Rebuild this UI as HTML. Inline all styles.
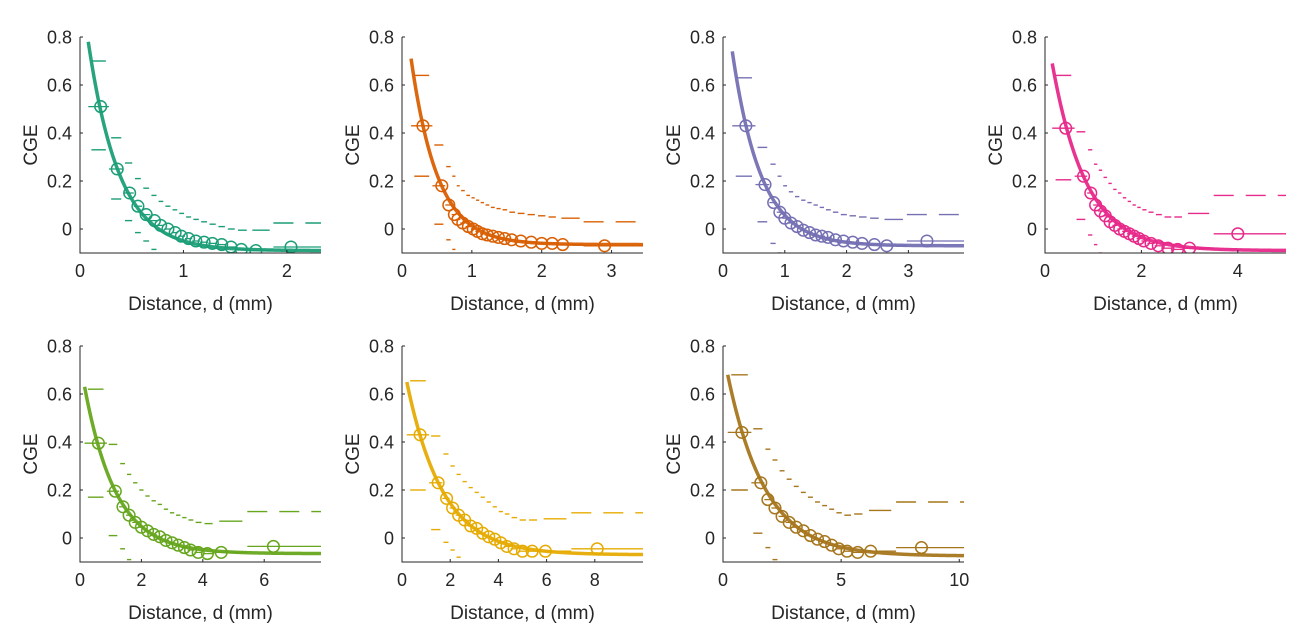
<!DOCTYPE html>
<html><head><meta charset="utf-8">
<style>
html,body{margin:0;padding:0;background:#fff;}
svg{display:block;font-family:"Liberation Sans",Arial,sans-serif;}
</style></head>
<body>
<svg id="fig" width="1298" height="632" viewBox="0 0 1298 632"></svg>
<script>
// ---- data per panel ----
const colors = ["#1b9e77","#d95f02","#7570b3","#e7298a","#66a61e","#e6ab02","#a6761d"];
const xMaxes = [2.33, 3.45, 3.9, 5, 7.85, 10, 10.2];
const xTicks = [[0,1,2],[0,1,2,3],[0,1,2,3],[0,2,4],[0,2,4,6],[0,2,4,6,8],[0,5,10]];
const yTicks = [0,0.2,0.4,0.6,0.8];
const fitStart = [0.08,0.13,0.15,0.15,0.15,0.2,0.2];
const fitAmp = [0.87,0.775,0.81,0.78,0.695,0.72,0.755];
const fitLambda = [0.3,0.38,0.46,0.7,1.02,1.49,1.6];
const fitOffset = [-0.09,-0.065,-0.07,-0.09,-0.065,-0.07,-0.075];
const binX = [
 [0.2,0.36,0.48,0.56,0.64,0.72,0.78,0.85,0.92,0.98,1.05,1.12,1.2,1.28,1.37,1.46,1.56,1.7,2.04],
 [0.3,0.57,0.67,0.75,0.8,0.87,0.95,1.02,1.08,1.15,1.22,1.3,1.38,1.47,1.57,1.7,1.85,2.0,2.15,2.3,2.9],
 [0.37,0.68,0.82,0.92,1.0,1.1,1.2,1.3,1.4,1.5,1.6,1.7,1.82,1.95,2.1,2.25,2.45,2.65,3.3],
 [0.43,0.8,0.95,1.05,1.15,1.25,1.35,1.45,1.55,1.65,1.75,1.85,1.95,2.05,2.2,2.35,2.55,2.75,3.0,4.0],
 [0.6,1.15,1.4,1.6,1.8,2.0,2.2,2.4,2.6,2.8,3.0,3.2,3.4,3.6,3.85,4.15,4.6,6.3],
 [0.75,1.5,1.85,2.1,2.35,2.6,2.85,3.1,3.35,3.6,3.85,4.1,4.35,4.65,5.0,5.4,5.95,8.1],
 [0.8,1.6,1.9,2.2,2.5,2.8,3.1,3.4,3.7,4.0,4.3,4.6,4.9,5.25,5.7,6.25,8.4]
];
const binMean = [
 [0.51,0.25,0.15,0.095,0.06,0.035,0.015,0,-0.015,-0.03,-0.04,-0.05,-0.055,-0.06,-0.065,-0.075,-0.085,-0.09,-0.075],
 [0.43,0.18,0.1,0.06,0.04,0.025,0.01,0,-0.01,-0.02,-0.025,-0.03,-0.035,-0.04,-0.045,-0.05,-0.055,-0.06,-0.06,-0.065,-0.07],
 [0.43,0.185,0.11,0.07,0.045,0.025,0.01,-0.005,-0.015,-0.025,-0.03,-0.035,-0.045,-0.05,-0.055,-0.06,-0.065,-0.07,-0.05],
 [0.42,0.22,0.15,0.1,0.075,0.055,0.03,0.015,0,-0.01,-0.02,-0.03,-0.04,-0.05,-0.06,-0.07,-0.08,-0.085,-0.08,-0.02],
 [0.395,0.195,0.13,0.095,0.065,0.045,0.03,0.015,0.005,-0.01,-0.02,-0.03,-0.04,-0.05,-0.06,-0.065,-0.06,-0.035],
 [0.43,0.23,0.165,0.125,0.095,0.075,0.05,0.04,0.02,0.005,-0.005,-0.02,-0.035,-0.045,-0.055,-0.055,-0.055,-0.045],
 [0.44,0.23,0.16,0.125,0.09,0.065,0.045,0.03,0.01,-0.005,-0.015,-0.03,-0.045,-0.055,-0.06,-0.055,-0.04]
];
const binUpper = [
 [0.7,0.38,0.275,0.21,0.17,0.14,0.115,0.095,0.08,0.065,0.05,0.04,0.03,0.02,0.01,0,-0.005,-0.005,0.025],
 [0.64,0.35,0.26,0.22,0.18,0.16,0.14,0.13,0.12,0.11,0.1,0.09,0.085,0.08,0.07,0.065,0.06,0.055,0.05,0.045,0.03],
 [0.63,0.34,0.27,0.22,0.18,0.155,0.135,0.12,0.11,0.1,0.09,0.08,0.07,0.06,0.055,0.05,0.045,0.04,0.06],
 [0.64,0.405,0.33,0.27,0.245,0.215,0.19,0.165,0.15,0.13,0.115,0.1,0.09,0.08,0.07,0.06,0.05,0.05,0.065,0.14],
 [0.62,0.39,0.31,0.265,0.23,0.2,0.175,0.155,0.14,0.12,0.105,0.095,0.085,0.075,0.065,0.06,0.07,0.11],
 [0.655,0.425,0.35,0.3,0.265,0.235,0.21,0.19,0.17,0.15,0.13,0.11,0.1,0.085,0.075,0.075,0.08,0.105],
 [0.68,0.455,0.37,0.325,0.28,0.245,0.215,0.19,0.17,0.15,0.135,0.12,0.105,0.095,0.1,0.115,0.15]
];
const binLower = [
 [0.33,0.125,0.035,-0.015,-0.05,-0.085,-0.11,-0.2,-0.2,-0.2,-0.2,-0.2,-0.2,-0.2,-0.2,-0.2,-0.2,-0.2,-0.2],
 [0.22,0.02,-0.045,-0.085,-0.2,-0.2,-0.2,-0.2,-0.2,-0.2,-0.2,-0.2,-0.2,-0.2,-0.2,-0.2,-0.2,-0.2,-0.2,-0.2,-0.2],
 [0.22,0.03,-0.06,-0.1,-0.2,-0.2,-0.2,-0.2,-0.2,-0.2,-0.2,-0.2,-0.2,-0.2,-0.2,-0.2,-0.2,-0.2,-0.2],
 [0.205,0.04,-0.025,-0.065,-0.1,-0.2,-0.2,-0.2,-0.2,-0.2,-0.2,-0.2,-0.2,-0.2,-0.2,-0.2,-0.2,-0.2,-0.2,-0.2],
 [0.17,0.01,-0.045,-0.09,-0.2,-0.2,-0.2,-0.2,-0.2,-0.2,-0.2,-0.2,-0.2,-0.2,-0.2,-0.2,-0.2,-0.2],
 [0.2,0.035,-0.018,-0.05,-0.08,-0.2,-0.2,-0.2,-0.2,-0.2,-0.2,-0.2,-0.2,-0.2,-0.2,-0.2,-0.2,-0.2],
 [0.2,0.02,-0.04,-0.09,-0.2,-0.2,-0.2,-0.2,-0.2,-0.2,-0.2,-0.2,-0.2,-0.2,-0.2,-0.2,-0.2]
];
// ---- layout ----
const panelLeft = [80,402,723,1045,80,402,723];
const panelTop = [37,37,37,37,346,346,346];
const W = 241, H = 216, yMin = -0.1, yMax = 0.8;
const NS = "http://www.w3.org/2000/svg";
const svg = document.getElementById("fig");
function mk(tag, attrs, parent){
  const e = document.createElementNS(NS, tag);
  for (const k in attrs) e.setAttribute(k, attrs[k]);
  (parent||svg).appendChild(e);
  return e;
}
for (let p = 0; p < 7; p++) {
  const L = panelLeft[p], T = panelTop[p], col = colors[p];
  const sx = v => L + v / xMaxes[p] * W;
  const sy = v => T + (yMax - v) / (yMax - yMin) * H;
  const g = mk("g", {});
  
  
  const clip = mk("clipPath", {id: "c" + p}, g);
  mk("rect", {x: L, y: T - 6, width: W + 1, height: H + 6}, clip);
  const plot = mk("g", {"clip-path": "url(#c" + p + ")"}, g);
  
  
  const xs = binX[p], n = xs.length;
  for (let i = 0; i < n; i++) {
    let lo, hi;
    if (i === 0) { lo = fitStart[p]; hi = (xs[0] + xs[1]) / 2; }
    else if (i === n - 1) { lo = (xs[i-1] + xs[i]) / 2; hi = xMaxes[p]; }
    else { lo = (xs[i-1] + xs[i]) / 2; hi = (xs[i] + xs[i+1]) / 2; }
    const last = i === n - 1;
    const ml = mk("line", {x1: sx(lo), x2: sx(hi), y1: sy(binMean[p][i]), y2: sy(binMean[p][i]), stroke: col, "stroke-width": 1.3}, plot);
    
    
    const w = hi - lo, a = last ? lo : lo + w * 0.15, b = last ? hi : hi - w * 0.15;
    const up = mk("line", {x1: sx(a), x2: sx(b), y1: sy(binUpper[p][i]), y2: sy(binUpper[p][i]), stroke: col, "stroke-width": 1.4}, plot);
    if (last) up.setAttribute("stroke-dasharray", "20 12");
    
    
    const lw = mk("line", {x1: sx(a), x2: sx(b), y1: sy(binLower[p][i]), y2: sy(binLower[p][i]), stroke: col, "stroke-width": 1.4}, plot);
    
    
  }
  let d = "";
  for (let k = 0; k <= 200; k++) {
    const x = fitStart[p] + (xMaxes[p] - fitStart[p]) * k / 200;
    const y = fitAmp[p] * Math.exp(-(x - fitStart[p]) / fitLambda[p]) + fitOffset[p];
    d += (k ? "L" : "M") + sx(x).toFixed(2) + " " + sy(y).toFixed(2);
  }
  const fit = mk("path", {d: d, fill: "none", stroke: col, "stroke-width": 3.5, "stroke-linejoin": "round", opacity: 0.95}, plot);
  
  
  for (let i = 0; i < n; i++) {
    const c = mk("circle", {cx: sx(xs[i]), cy: sy(binMean[p][i]), r: 5.8, fill: "none", stroke: col, "stroke-width": 1.5}, plot);
    
    
  }
  // axes
  const ax = mk("path", {d: `M${L} ${T}V${T+H}H${L+W}`, fill: "none", stroke: "#262626", "stroke-width": 1}, g);
  
  
  for (const t of yTicks) {
    mk("line", {x1: L, x2: L + 3, y1: sy(t), y2: sy(t), stroke: "#262626"}, g);
    const tx = mk("text", {x: L - 8, y: sy(t) + 6.5, "text-anchor": "end", "font-size": 18, fill: "#262626"}, g);
    tx.textContent = t === 0 ? "0" : t.toFixed(1);
    
    
  }
  for (const t of xTicks[p]) {
    mk("line", {x1: sx(t), x2: sx(t), y1: T + H, y2: T + H - 3, stroke: "#262626"}, g);
    const tx = mk("text", {x: sx(t), y: T + H + 24, "text-anchor": "middle", "font-size": 18, fill: "#262626"}, g);
    tx.textContent = String(t);
    
    
  }
  const xl = mk("text", {x: L + W / 2, y: T + H + 57, "text-anchor": "middle", "font-size": 19, fill: "#262626"}, g);
  xl.textContent = "Distance, d (mm)";
  
  
  const yl = mk("text", {x: 0, y: 0, "text-anchor": "middle", "font-size": 19, fill: "#262626", transform: `translate(${L - 43},${sy(0.35)}) rotate(-90)`}, g);
  yl.textContent = "CGE";
  
  
}
</script>
</body></html>
